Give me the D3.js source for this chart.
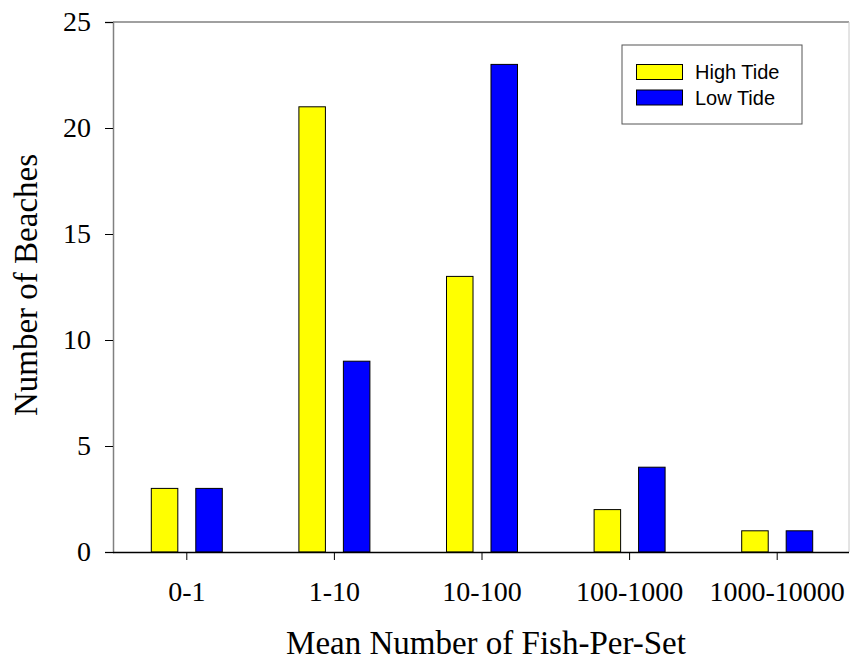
<!DOCTYPE html>
<html><head><meta charset="utf-8">
<script src="https://cdn.jsdelivr.net/npm/d3@7"></script>
<style>body{margin:0;background:#fff}svg{display:block}</style>
</head><body>
<script>
const categories = ["0-1","1-10","10-100","100-1000","1000-10000"];
const highTide = [3,21,13,2,1];
const lowTide = [3,9,23,4,1];
const seriesNames = ["High Tide","Low Tide"];
const seriesColors = ["#ffff00","#0000ff"];
const yTicks = [0,5,10,15,20,25];

const W=851,H=662;
const m={l:113,r:0,t:22,b:110};
const serif="Liberation Serif, Times New Roman, serif";
const svg=d3.select("body").append("svg").attr("width",W).attr("height",H);
const x=d3.scaleBand().domain(categories).range([m.l,W-m.r]);
const y=d3.scaleLinear().domain([0,25]).range([H-m.b,m.t]);
const sub=d3.scaleBand().domain(seriesNames).range([-35.5,35.5]).paddingInner(0.404).paddingOuter(0);

// frame
svg.append("line").attr("x1",m.l).attr("x2",849).attr("y1",m.t).attr("y2",m.t).attr("stroke","#808080").attr("stroke-width",1.5);
svg.append("line").attr("x1",849).attr("x2",849).attr("y1",m.t).attr("y2",y(0)).attr("stroke","#c8c8c8").attr("stroke-width",1);

const data=[highTide,lowTide];
seriesNames.forEach((s,si)=>{
  svg.append("g").selectAll("rect").data(categories).join("rect")
    .attr("x",c=>x(c)+x.bandwidth()/2+sub(s))
    .attr("width",sub.bandwidth())
    .attr("y",(c,i)=>y(data[si][i]))
    .attr("height",(c,i)=>y(0)-y(data[si][i]))
    .attr("fill",seriesColors[si]).attr("stroke","#000").attr("stroke-width",1);
});

// y axis
const ya=svg.append("g").attr("transform",`translate(${m.l},0)`)
  .call(d3.axisLeft(y).tickValues(yTicks).tickSize(8).tickPadding(14));
ya.select(".domain").attr("stroke","#808080").attr("stroke-width",1.5);
ya.selectAll(".tick line").attr("stroke","#000");
ya.selectAll("text").attr("font-family",serif).attr("font-size",28).attr("fill","#000");

// x axis
const xa=svg.append("g").attr("transform",`translate(0,${y(0)})`)
  .call(d3.axisBottom(x).tickSize(8).tickPadding(21).tickSizeOuter(0));
xa.select(".domain").attr("stroke","#000").attr("stroke-width",1.5).attr("d",`M${m.l},0.5H849`);
xa.selectAll(".tick line").attr("stroke","#000");
xa.selectAll("text").attr("font-family",serif).attr("font-size",28).attr("fill","#000");

// titles
svg.append("text").attr("x",486).attr("y",654).attr("text-anchor","middle")
  .attr("font-family",serif).attr("font-size",33).text("Mean Number of Fish-Per-Set");
svg.append("text").attr("transform","translate(37,285) rotate(-90)").attr("text-anchor","middle")
  .attr("font-family",serif).attr("font-size",33).text("Number of Beaches");

// legend
const lg=svg.append("g");
lg.append("rect").attr("x",622).attr("y",45).attr("width",180).attr("height",79).attr("fill","#fff").attr("stroke","#555").attr("stroke-width",1);
seriesNames.forEach((s,i)=>{
  lg.append("rect").attr("x",636.5).attr("y",64.5+i*25.5).attr("width",46).attr("height",15).attr("fill",seriesColors[i]).attr("stroke","#000");
  lg.append("text").attr("x",695).attr("y",79+i*25.5).attr("font-family","Liberation Sans, Arial, sans-serif").attr("font-size",20).text(s);
});
</script>
</body></html>
